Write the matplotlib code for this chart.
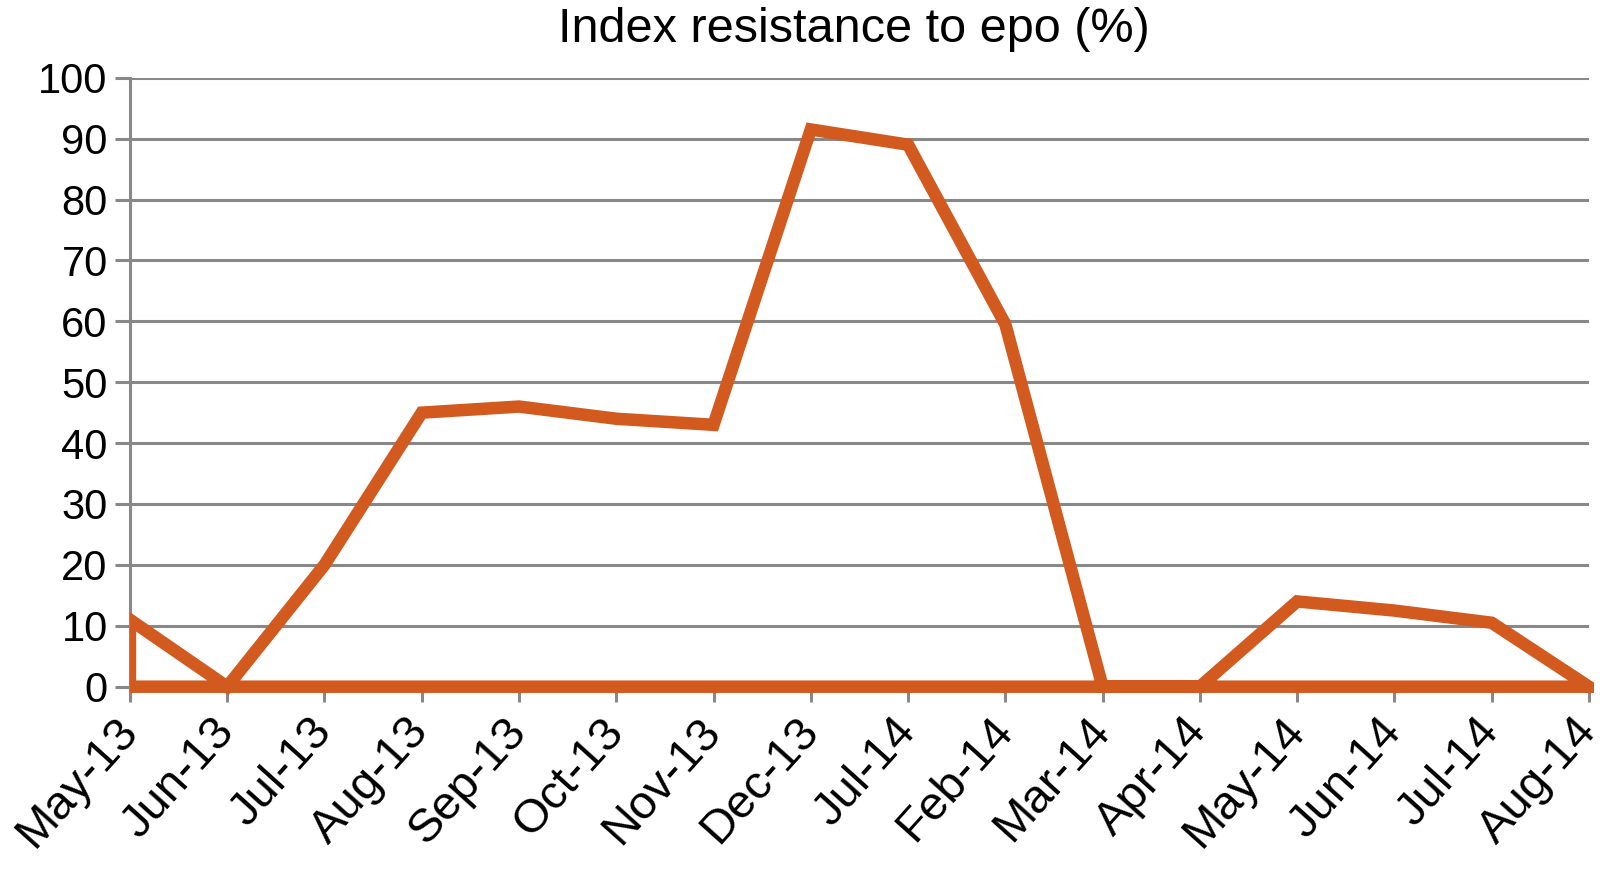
import matplotlib
matplotlib.use("Agg")
import matplotlib.pyplot as plt
from matplotlib.patches import Rectangle

months = ["May-13", "Jun-13", "Jul-13", "Aug-13", "Sep-13", "Oct-13", "Nov-13",
          "Dec-13", "Jul-14", "Feb-14", "Mar-14", "Apr-14", "May-14", "Jun-14",
          "Jul-14", "Aug-14"]
values = [11, 0, 20, 45, 46, 44, 43, 91.5, 89, 59.5, 0, 0, 14, 12.5, 10.5, 0]
yticks = [0, 10, 20, 30, 40, 50, 60, 70, 80, 90, 100]
title = "Index resistance to epo (%)"

plt.rcParams['font.family'] = ['Liberation Sans', 'DejaVu Sans']

fig = plt.figure(figsize=(16.12, 8.76), dpi=100)
ax = fig.add_axes([0.0806, 0.2161, 0.9857 - 0.0806, 0.9113 - 0.2161])

grey = '#888888'
orange = '#D35A1F'

x = list(range(len(months)))
ax.set_xlim(0, len(months) - 1)
ax.set_ylim(0, 100)

for yv in yticks:
    ax.axhline(yv, color=grey, lw=2.2, zorder=1)

# closed outline like an Excel area chart without fill
px = [x[0]] + x + [x[-1], x[0]]
py = [0] + values + [0, 0]
poly, = ax.fill(px, py, facecolor='none', edgecolor=orange, lw=9, zorder=3,
                joinstyle='miter')
clip = Rectangle((0, -10), len(months) - 1 + 0.05, 120, transform=ax.transData,
                 facecolor='none', edgecolor='none')
poly.set_clip_path(clip)

for s in ['top', 'right', 'bottom']:
    ax.spines[s].set_visible(False)
ax.spines['left'].set_color(grey)
ax.spines['left'].set_linewidth(2.2)

ax.set_yticks(yticks)
ax.set_yticklabels([str(v) for v in yticks], fontsize=30)
ax.set_xticks(x)
ax.set_xticklabels(months, fontsize=34, rotation=48, ha='right', va='center',
                   rotation_mode='anchor')
ax.tick_params(axis='y', length=11, width=2.2, color=grey, pad=5)
ax.tick_params(axis='x', length=11, width=2.2, color=grey, pad=16)

fig.text(0.530, 0.966, title, fontsize=35, ha='center', va='center')

fig.savefig('out.png', dpi=100)
